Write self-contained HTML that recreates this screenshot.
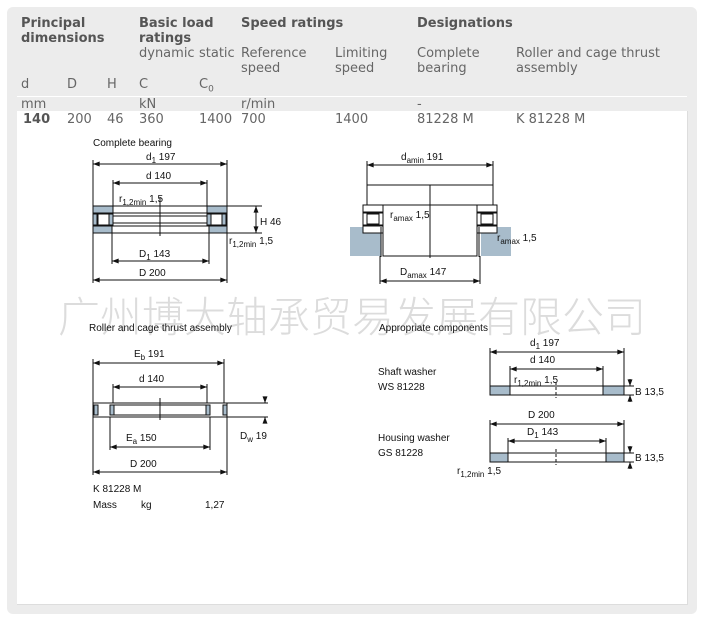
<!DOCTYPE html>
<html><head><meta charset="utf-8"><style>
html,body{margin:0;padding:0;background:#fff;}
body{width:707px;height:621px;position:relative;overflow:hidden;font-family:"Liberation Sans","DejaVu Sans",sans-serif;}
.panel{position:absolute;left:7px;top:7px;width:690px;height:607px;background:#ececec;border-radius:6px;}
.inner{position:absolute;left:17px;top:111px;width:670px;height:493px;background:#fff;border-right:1px solid #ddd;border-bottom:1px solid #ddd;}
.t{position:absolute;font-size:13px;color:#666;white-space:nowrap;line-height:15px;font-family:"DejaVu Sans","Liberation Sans",sans-serif;}
.b{font-weight:bold;color:#555;}
svg{position:absolute;left:0;top:0;}
svg text{font-family:"Liberation Sans",sans-serif;font-size:10px;fill:#111;}
.wm{position:absolute;left:58px;top:290px;font-size:42px;color:#dcdcdc;letter-spacing:0px;font-family:"Noto Sans CJK SC","WenQuanYi Zen Hei",sans-serif;font-weight:300;white-space:nowrap;line-height:50px;}
</style></head><body>
<div class="panel"></div>
<div class="inner"></div>
<div style="position:absolute;left:17px;top:96px;width:670px;height:1px;background:#fff"></div>

<div class="t b" style="left:21px;top:16px">Principal</div>
<div class="t b" style="left:21px;top:31px">dimensions</div>
<div class="t b" style="left:139px;top:16px">Basic load</div>
<div class="t b" style="left:139px;top:31px">ratings</div>
<div class="t b" style="left:241px;top:16px">Speed ratings</div>
<div class="t b" style="left:417px;top:16px">Designations</div>
<div class="t" style="left:139px;top:46px">dynamic</div>
<div class="t" style="left:199px;top:46px">static</div>
<div class="t" style="left:241px;top:46px">Reference</div>
<div class="t" style="left:241px;top:61px">speed</div>
<div class="t" style="left:335px;top:46px">Limiting</div>
<div class="t" style="left:335px;top:61px">speed</div>
<div class="t" style="left:417px;top:46px">Complete</div>
<div class="t" style="left:417px;top:61px">bearing</div>
<div class="t" style="left:516px;top:46px">Roller and cage thrust</div>
<div class="t" style="left:516px;top:61px">assembly</div>
<div class="t" style="left:21px;top:77px">d</div>
<div class="t" style="left:67px;top:77px">D</div>
<div class="t" style="left:107px;top:77px">H</div>
<div class="t" style="left:139px;top:77px">C</div>
<div class="t" style="left:199px;top:77px">C<sub style="font-size:9px">0</sub></div>
<div class="t" style="left:21px;top:97px">mm</div>
<div class="t" style="left:139px;top:97px">kN</div>
<div class="t" style="left:241px;top:97px">r/min</div>
<div class="t" style="left:417px;top:97px">-</div>
<div class="t b" style="left:23px;top:112px">140</div>
<div class="t" style="left:67px;top:112px">200</div>
<div class="t" style="left:107px;top:112px">46</div>
<div class="t" style="left:139px;top:112px">360</div>
<div class="t" style="left:199px;top:112px">1400</div>
<div class="t" style="left:241px;top:112px">700</div>
<div class="t" style="left:335px;top:112px">1400</div>
<div class="t" style="left:417px;top:112px">81228 M</div>
<div class="t" style="left:516px;top:112px">K 81228 M</div>

<div class="wm">广州博大轴承贸易发展有限公司</div>

<svg width="707" height="621" viewBox="0 0 707 621">
<defs>
<marker id="a" viewBox="0 0 8 6" refX="8" refY="3" markerWidth="7" markerHeight="5" orient="auto-start-reverse"><path d="M0,0L8,3L0,6z" fill="#111"/></marker>
</defs>
<g stroke="#111" stroke-width="1" fill="none">
<!-- Diagram 1 -->
<line x1="93" y1="164" x2="227" y2="164" marker-start="url(#a)" marker-end="url(#a)"/>
<line x1="113" y1="183" x2="207" y2="183" marker-start="url(#a)" marker-end="url(#a)"/>
<line x1="112" y1="261" x2="209" y2="261" marker-start="url(#a)" marker-end="url(#a)"/>
<line x1="93" y1="280" x2="227" y2="280" marker-start="url(#a)" marker-end="url(#a)"/>
<line x1="93" y1="160" x2="93" y2="283"/><line x1="227" y1="160" x2="227" y2="283"/>
<line x1="113" y1="180" x2="113" y2="206"/><line x1="207" y1="180" x2="207" y2="206"/>
<line x1="112" y1="233" x2="112" y2="264"/><line x1="209" y1="233" x2="209" y2="264"/>
<rect x="93" y="206" width="134" height="7" fill="#fff"/>
<rect x="93" y="216" width="134" height="7" fill="#fff"/>
<rect x="93" y="226" width="134" height="7" fill="#fff"/>
<rect x="93" y="206" width="20" height="7" fill="#a8bccb"/>
<rect x="207" y="206" width="20" height="7" fill="#a8bccb"/>
<rect x="93" y="226" width="19" height="7" fill="#a8bccb"/>
<rect x="209" y="226" width="18" height="7" fill="#a8bccb"/>
<rect x="93" y="214" width="4" height="11" fill="#a8bccb"/>
<rect x="98" y="214" width="11" height="11" fill="#fff"/>
<rect x="109" y="214" width="4" height="11" fill="#a8bccb"/>
<rect x="207" y="214" width="4" height="11" fill="#a8bccb"/>
<rect x="211" y="214" width="11" height="11" fill="#fff"/>
<rect x="222" y="214" width="4" height="11" fill="#a8bccb"/>
<line x1="160" y1="197" x2="160" y2="236"/>
<line x1="227" y1="206" x2="262" y2="206"/><line x1="227" y1="233" x2="262" y2="233"/>
<line x1="256" y1="206" x2="256" y2="233" marker-start="url(#a)" marker-end="url(#a)"/>

<!-- Diagram 2 -->
<rect x="350" y="227" width="31" height="29" fill="#a8bccb" stroke="none"/>
<rect x="481" y="227" width="30" height="29" fill="#a8bccb" stroke="none"/>
<line x1="367" y1="165" x2="493" y2="165" marker-start="url(#a)" marker-end="url(#a)"/>
<line x1="367" y1="161" x2="367" y2="205"/><line x1="493" y1="161" x2="493" y2="205"/>
<line x1="367" y1="185" x2="493" y2="185"/>
<rect x="363" y="205" width="134" height="7" fill="#fff"/>
<rect x="383" y="205" width="94" height="51" fill="#fff"/>
<rect x="363" y="213" width="20" height="12" fill="#fff"/>
<rect x="367" y="214" width="12" height="10" fill="#fff"/>
<rect x="363" y="226" width="20" height="7" fill="#fff"/>
<rect x="477" y="213" width="20" height="12" fill="#fff"/>
<rect x="481" y="214" width="12" height="10" fill="#fff"/>
<rect x="477" y="226" width="20" height="7" fill="#fff"/>
<line x1="381" y1="227" x2="381" y2="257"/><line x1="479" y1="227" x2="479" y2="257"/>
<line x1="380" y1="256" x2="380" y2="284"/><line x1="480" y1="256" x2="480" y2="284"/>
<line x1="430" y1="185" x2="430" y2="258"/>
<line x1="380" y1="281" x2="480" y2="281" marker-start="url(#a)" marker-end="url(#a)"/>

<!-- Diagram 3 -->
<line x1="93" y1="363" x2="224" y2="363" marker-start="url(#a)" marker-end="url(#a)"/>
<line x1="113" y1="387" x2="207" y2="387" marker-start="url(#a)" marker-end="url(#a)"/>
<line x1="110" y1="447" x2="210" y2="447" marker-start="url(#a)" marker-end="url(#a)"/>
<line x1="93" y1="472" x2="227" y2="472" marker-start="url(#a)" marker-end="url(#a)"/>
<line x1="93" y1="359" x2="93" y2="475"/><line x1="224" y1="359" x2="224" y2="403"/>
<line x1="227" y1="417" x2="227" y2="475"/>
<line x1="113" y1="384" x2="113" y2="403"/><line x1="207" y1="384" x2="207" y2="403"/>
<line x1="110" y1="417" x2="110" y2="450"/><line x1="210" y1="417" x2="210" y2="450"/>
<rect x="93" y="403" width="134" height="14" fill="#fff"/>
<rect x="113" y="405" width="94" height="10" fill="#fff"/>
<rect x="94" y="405" width="4" height="10" fill="#a8bccb"/>
<rect x="110" y="405" width="4" height="10" fill="#a8bccb"/>
<rect x="206" y="405" width="4" height="10" fill="#a8bccb"/>
<rect x="223" y="405" width="4" height="10" fill="#a8bccb"/>
<line x1="160" y1="398" x2="160" y2="420"/>
<line x1="227" y1="403" x2="268" y2="403"/><line x1="227" y1="417" x2="268" y2="417"/>
<line x1="265" y1="397" x2="265" y2="403" marker-end="url(#a)"/>
<line x1="265" y1="423" x2="265" y2="417" marker-end="url(#a)"/>

<!-- Diagram 4 -->
<line x1="490" y1="352" x2="624" y2="352" marker-start="url(#a)" marker-end="url(#a)"/>
<line x1="510" y1="369" x2="603" y2="369" marker-start="url(#a)" marker-end="url(#a)"/>
<line x1="490" y1="348" x2="490" y2="386"/><line x1="624" y1="348" x2="624" y2="386"/>
<line x1="510" y1="366" x2="510" y2="386"/><line x1="603" y1="366" x2="603" y2="386"/>
<rect x="490" y="386" width="134" height="9" fill="#fff"/>
<rect x="490" y="386" width="20" height="9" fill="#a8bccb"/>
<rect x="603" y="386" width="21" height="9" fill="#a8bccb"/>
<line x1="556" y1="382" x2="556" y2="398" stroke-dasharray="3,2"/>
<line x1="624" y1="386" x2="634" y2="386"/><line x1="624" y1="395" x2="634" y2="395"/>
<line x1="630" y1="379" x2="630" y2="386" marker-end="url(#a)"/>
<line x1="630" y1="402" x2="630" y2="395" marker-end="url(#a)"/>

<line x1="490" y1="424" x2="624" y2="424" marker-start="url(#a)" marker-end="url(#a)"/>
<line x1="508" y1="441" x2="606" y2="441" marker-start="url(#a)" marker-end="url(#a)"/>
<line x1="490" y1="420" x2="490" y2="453"/><line x1="624" y1="420" x2="624" y2="453"/>
<line x1="508" y1="438" x2="508" y2="453"/><line x1="606" y1="438" x2="606" y2="453"/>
<rect x="490" y="453" width="134" height="9" fill="#fff"/>
<rect x="490" y="453" width="18" height="9" fill="#a8bccb"/>
<rect x="606" y="453" width="18" height="9" fill="#a8bccb"/>
<line x1="556" y1="449" x2="556" y2="465" stroke-dasharray="3,2"/>
<line x1="624" y1="453" x2="634" y2="453"/><line x1="624" y1="462" x2="634" y2="462"/>
<line x1="630" y1="446" x2="630" y2="453" marker-end="url(#a)"/>
<line x1="630" y1="469" x2="630" y2="462" marker-end="url(#a)"/>
</g>

<g>
<text x="93" y="146">Complete bearing</text>
<text x="146" y="160">d<tspan font-size="8" dy="3">1</tspan><tspan dy="-3"> 197</tspan></text>
<text x="146" y="179">d 140</text>
<text x="119" y="202">r<tspan font-size="8" dy="3">1,2min</tspan><tspan dy="-3">  1,5</tspan></text>
<text x="260" y="225">H 46</text>
<text x="229" y="244">r<tspan font-size="8" dy="3">1,2min</tspan><tspan dy="-3">   1,5</tspan></text>
<text x="139" y="257">D<tspan font-size="8" dy="3">1</tspan><tspan dy="-3"> 143</tspan></text>
<text x="139" y="276">D 200</text>

<text x="401" y="160">d<tspan font-size="8" dy="3">amin</tspan><tspan dy="-3">  191</tspan></text>
<text x="390" y="218">r<tspan font-size="8" dy="3">amax</tspan><tspan dy="-3">  1,5</tspan></text>
<text x="497" y="241">r<tspan font-size="8" dy="3">amax</tspan><tspan dy="-3">   1,5</tspan></text>
<text x="400" y="275">D<tspan font-size="8" dy="3">amax</tspan><tspan dy="-3">   147</tspan></text>

<text x="89" y="331">Roller and cage thrust assembly</text>
<text x="379" y="331">Appropriate components</text>

<text x="134" y="357">E<tspan font-size="8" dy="3">b</tspan><tspan dy="-3"> 191</tspan></text>
<text x="139" y="382">d 140</text>
<text x="126" y="441">E<tspan font-size="8" dy="3">a</tspan><tspan dy="-3"> 150</tspan></text>
<text x="240" y="439">D<tspan font-size="8" dy="3">w</tspan><tspan dy="-3">   19</tspan></text>
<text x="130" y="467">D 200</text>
<text x="93" y="492">K 81228 M</text>
<text x="93" y="508">Mass</text><text x="141" y="508">kg</text><text x="205" y="508">1,27</text>

<text x="530" y="346">d<tspan font-size="8" dy="3">1</tspan><tspan dy="-3"> 197</tspan></text>
<text x="530" y="363">d 140</text>
<text x="378" y="375">Shaft washer</text>
<text x="378" y="390">WS 81228</text>
<text x="514" y="383">r<tspan font-size="8" dy="3">1,2min</tspan><tspan dy="-3">  1,5</tspan></text>
<text x="635" y="395">B 13,5</text>
<text x="528" y="418">D 200</text>
<text x="527" y="435">D<tspan font-size="8" dy="3">1</tspan><tspan dy="-3"> 143</tspan></text>
<text x="378" y="441">Housing washer</text>
<text x="378" y="456">GS 81228</text>
<text x="635" y="461">B 13,5</text>
<text x="457" y="474">r<tspan font-size="8" dy="3">1,2min</tspan><tspan dy="-3">  1,5</tspan></text>
</g>
</svg>
</body></html>
